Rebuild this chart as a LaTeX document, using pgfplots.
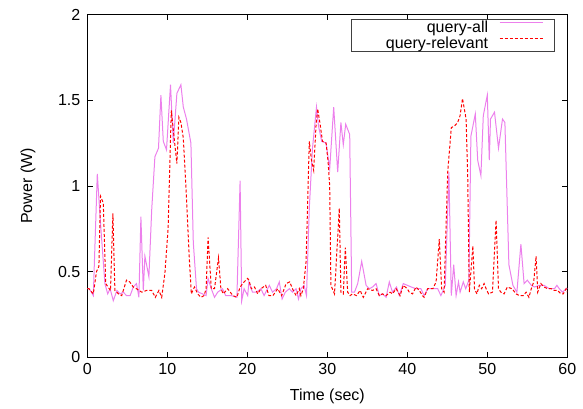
\documentclass[border=0pt]{standalone}
\usepackage{fontspec}
\setmainfont{Liberation Sans}
\usepackage{pgfplots}
\pgfplotsset{compat=1.18}
\definecolor{qall}{RGB}{236,128,236}
\definecolor{qrel}{RGB}{255,0,0}

\pgfplotstableread{
t p
0 0.40
0.25 0.40
0.75 0.36
1.25 1.07
1.7 0.75
2.2 0.43
2.55 0.37
2.85 0.40
3.25 0.33
3.7 0.39
4.1 0.37
4.5 0.38
4.9 0.36
5.35 0.36
5.75 0.41
6.15 0.43
6.45 0.35
6.7 0.82
7.0 0.39
7.2 0.59
7.7 0.47
8.05 0.86
8.45 1.17
8.9 1.22
9.2 1.53
9.5 1.26
9.9 1.21
10.4 1.59
10.75 1.25
11.2 1.54
11.7 1.59
12.0 1.46
12.4 1.39
12.95 1.25
13.25 0.67
13.65 0.40
13.9 0.38
14.4 0.37
14.85 0.36
15.1 0.46
15.5 0.40
15.9 0.35
16.3 0.38
16.9 0.40
17.3 0.36
18.0 0.36
18.7 0.35
19.1 1.03
19.3 0.33
19.6 0.40
20.05 0.36
20.2 0.44
20.65 0.38
21.15 0.38
21.7 0.40
22.1 0.36
22.75 0.42
23.15 0.38
23.65 0.40
24.0 0.44
24.35 0.34
24.75 0.38
25.25 0.40
25.65 0.38
26.1 0.40
26.4 0.34
26.7 0.40
27.1 0.42
27.4 0.36
27.75 0.87
28.15 1.22
28.65 1.46
28.9 1.35
29.3 1.26
29.85 1.25
30.3 1.10
30.8 1.46
31.3 1.08
31.7 1.37
32.0 1.24
32.3 1.36
32.8 1.30
33.05 0.38
33.4 0.38
33.8 0.43
34.3 0.56
34.85 0.42
35.25 0.40
35.65 0.41
36.1 0.43
36.5 0.36
36.9 0.37
37.35 0.35
37.75 0.44
38.15 0.38
38.65 0.41
39.0 0.36
39.5 0.43
40.0 0.42
40.5 0.41
41.1 0.40
41.7 0.40
42.1 0.36
42.55 0.40
43.2 0.40
43.8 0.40
44.2 0.36
44.75 0.42
45.2 1.08
45.5 0.36
45.8 0.54
46.1 0.36
46.4 0.44
46.6 0.38
47.0 0.44
47.3 0.40
47.7 0.45
47.95 1.29
48.5 1.42
48.8 1.15
49.2 1.06
49.5 1.41
50.0 1.53
50.25 1.15
50.4 1.39
50.9 1.43
51.4 1.22
51.9 1.39
52.2 1.37
52.7 0.54
53.2 0.42
53.7 0.38
54.2 0.66
54.6 0.43
55.0 0.45
55.5 0.42
55.9 0.41
56.5 0.42
57.1 0.42
57.75 0.40
58.4 0.40
58.7 0.42
59.0 0.40
59.4 0.38
59.85 0.40
60 0.40
}\queryall

\pgfplotstableread{
t p
0 0.40
0.2 0.40
0.75 0.37
1.15 0.50
1.45 0.53
1.65 0.94
2.0 0.90
2.3 0.43
2.6 0.41
2.9 0.39
3.2 0.84
3.45 0.39
3.9 0.37
4.3 0.36
4.9 0.45
5.3 0.44
5.75 0.41
6.15 0.40
6.8 0.38
7.4 0.39
8.05 0.39
8.5 0.35
8.95 0.39
9.3 0.35
9.7 0.49
10.1 0.75
10.5 1.44
10.9 1.26
11.2 1.13
11.45 1.40
11.7 1.37
12.0 1.28
12.35 0.97
12.75 0.58
13.0 0.37
13.4 0.41
13.8 0.37
14.2 0.35
14.6 0.36
14.85 0.40
15.1 0.70
15.5 0.40
15.9 0.40
16.4 0.58
16.7 0.40
17.0 0.37
17.55 0.40
18.2 0.36
18.7 0.35
19.1 0.41
19.6 0.44
20.05 0.46
20.2 0.45
20.5 0.40
20.9 0.41
21.3 0.37
21.7 0.40
22.3 0.42
22.7 0.36
23.2 0.36
23.8 0.40
24.3 0.36
24.85 0.43
25.3 0.44
25.65 0.40
26.1 0.36
26.5 0.40
26.7 0.36
27.0 0.40
27.35 0.56
27.75 1.26
28.05 1.14
28.3 1.09
28.6 1.36
28.8 1.45
29.1 1.36
29.4 1.26
29.85 1.25
30.1 1.14
30.3 1.00
30.45 0.42
30.9 0.37
31.5 0.87
31.7 0.38
32.0 0.37
32.25 0.64
32.55 0.38
32.85 0.36
33.15 0.37
33.65 0.36
34.1 0.39
34.5 0.35
35.05 0.40
35.65 0.39
36.1 0.40
36.5 0.36
36.9 0.37
37.35 0.36
37.85 0.38
38.15 0.37
38.6 0.40
39.1 0.36
39.5 0.42
40.0 0.40
40.25 0.38
40.65 0.37
41.1 0.41
41.5 0.39
41.9 0.36
42.1 0.35
42.55 0.40
43.2 0.40
43.6 0.44
44.0 0.69
44.3 0.40
44.6 0.38
45.05 1.08
45.5 1.34
45.9 1.35
46.3 1.37
46.6 1.41
46.9 1.51
47.35 1.39
47.55 1.06
47.75 0.38
48.2 0.65
48.4 0.40
48.7 0.37
49.0 0.42
49.3 0.40
49.6 0.43
49.85 0.40
50.15 0.37
50.65 0.38
51.1 0.80
51.4 0.40
51.7 0.38
52.1 0.37
52.5 0.41
53.1 0.40
53.6 0.37
54.0 0.36
54.5 0.36
54.85 0.38
55.2 0.35
55.5 0.40
55.8 0.44
56.1 0.59
56.3 0.38
56.7 0.43
57.1 0.41
57.55 0.40
58.0 0.40
58.4 0.39
58.8 0.39
59.2 0.37
59.5 0.37
59.85 0.40
60 0.38
}\queryrel

\begin{document}
\fontsize{16bp}{19bp}\selectfont
\begin{tikzpicture}
% fixed page size: 583 x 409 with the frame at the reference's place
\useasboundingbox (-87.3bp,-51.7bp) rectangle (495.7bp,357.3bp);
\begin{axis}[
    at={(0,0)}, anchor=south west,
    scale only axis,
    width=480bp, height=342.8bp,
    xmin=0, xmax=60, ymin=0, ymax=2,
    xtick={0,10,...,60},
    ytick={0,0.5,1,1.5,2},
    tick align=inside,
    xtick pos=both, ytick pos=both,
    major tick length=5.5bp,
    axis line style={line width=1bp},
    every tick/.style={black, line width=0.8bp},
    /pgf/number format/assume math mode=true,
    xlabel={Time (sec)},
    ylabel={Power (W)},
    xlabel style={at={(axis description cs:0.5,-0.113)}, anchor=center},
    ylabel style={at={(axis description cs:-0.1235,0.5)}, anchor=center},
    yticklabel style={xshift=-1.5bp},
    legend cell align=right,
    legend plot pos=right,
    legend image code/.code={
        \draw[#1] (0bp,5bp) -- (43.3bp,5bp);
        \path (52bp,0bp);
    },
    legend style={at={(1,1)}, anchor=north east, xshift=-12.7bp, yshift=-4.8bp,
        draw=black!75, line width=0.8bp, inner xsep=2bp, inner ysep=0bp,
        column sep=10bp,
        nodes={inner sep=1bp}},
]
\addplot[qall, line width=1bp] table[x=t, y=p] {\queryall};
\addlegendentry{\makebox[133.7bp][r]{query-all}}
\addplot[qrel, line width=1bp, dash pattern=on 3bp off 2bp] table[x=t, y=p] {\queryrel};
\addlegendentry{\makebox[133.7bp][r]{query-relevant}}
\end{axis}
\end{tikzpicture}
\end{document}
